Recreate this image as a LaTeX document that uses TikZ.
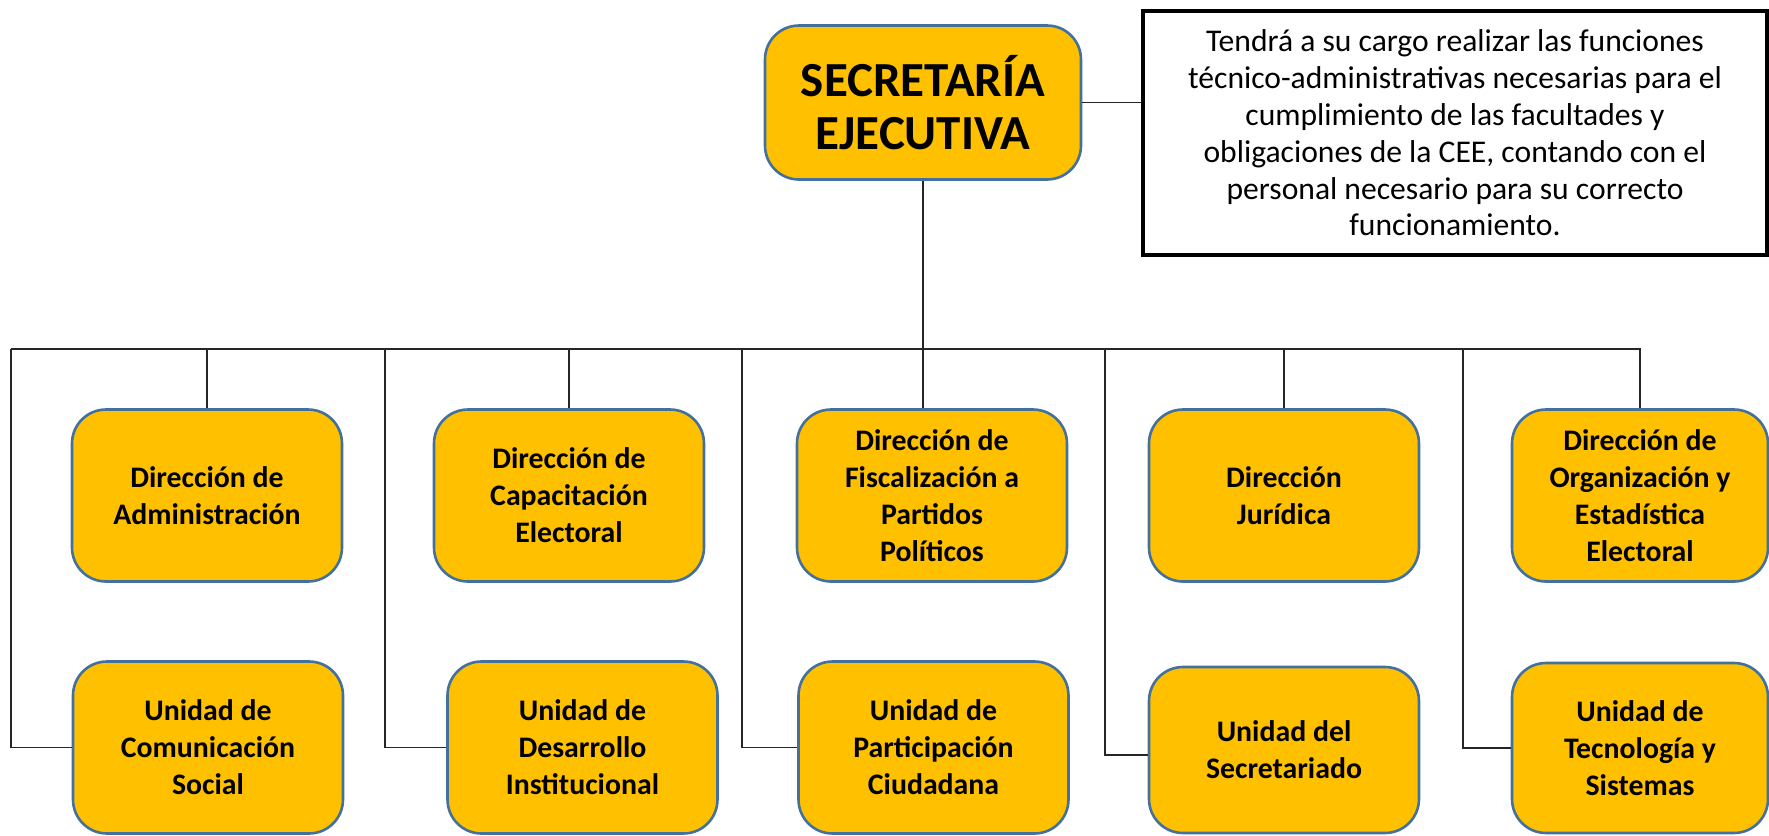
\documentclass[tikz,border=0pt]{standalone}
\usepackage{fontspec}
\setmainfont{Carlito}
\usetikzlibrary{positioning}

\definecolor{cajaamarilla}{HTML}{FFC000}
\definecolor{bordeazul}{HTML}{41719C}

\tikzset{
    caja/.style={draw=bordeazul, line width=1.3pt, fill=cajaamarilla, rounded corners=17pt,
        minimum width=135pt, minimum height=86pt, inner sep=0pt, align=center,
        font=\bfseries\fontsize{14.9}{18.5}\selectfont},
    linea/.style={line width=0.75pt, draw=black!85}
}

\begin{document}
\begin{tikzpicture}[x=0.5pt, y=-0.5pt]
    \useasboundingbox (0,0) rectangle (1769,836);
    % Cabeza del organigrama
    \node[caja, minimum width=158pt, minimum height=77pt, font=\bfseries\fontsize{24.5}{26.5}\selectfont]
        (sec) at (923,102.5) {SECRETARÍA\\EJECUTIVA};
    \node[draw=black, line width=2pt, minimum width=312pt, minimum height=122pt, inner sep=0pt,
        align=center, font=\fontsize{15.8}{18.4}\selectfont] (desc) at (1455,133)
        {Tendrá a su cargo realizar las funciones\\técnico-administrativas necesarias para el\\
         cumplimiento de las facultades y\\obligaciones de la CEE, contando con el\\
         personal necesario para su correcto\\funcionamiento.};
    \draw[linea] (sec.east) -- (sec.east -| desc.west);
    % Direcciones (fila superior)
    \node[caja] (adm) at (207,495.5) {Dirección de\\Administración};
    \node[caja] (cap) at (569,495.5) {Dirección de\\Capacitación\\Electoral};
    \node[caja] (fis) at (932,495.5) {Dirección de\\Fiscalización a\\Partidos\\Políticos};
    \node[caja] (jur) at (1284,495.5) {Dirección\\Jurídica};
    \node[caja, minimum width=128pt] (org) at (1640,495.5) {Dirección de\\Organización y\\Estadística\\Electoral};
    % Unidades (fila inferior)
    \node[caja] (com) at (208,747.5) {Unidad de\\Comunicación\\Social};
    \node[caja] (des) at (582.5,747.5) {Unidad de\\Desarrollo\\Institucional};
    \node[caja] (par) at (933.5,747.5) {Unidad de\\Participación\\Ciudadana};
    \node[caja, minimum height=83pt] (sct) at (1284,750) {Unidad del\\Secretariado};
    \node[caja, minimum width=128pt, minimum height=85pt] (tec) at (1640,748) {Unidad de\\Tecnología y\\Sistemas};
    % Conectores
    \coordinate (b1) at (11,349);
    \coordinate (b2) at (385,349);
    \coordinate (b3) at (742,349);
    \coordinate (b4) at (1105,349);
    \coordinate (b5) at (1463,349);
    \draw[linea] (sec.south) -- (sec.south |- fis.north);
    \draw[linea] (b1) -| (org.north);
    \foreach \n in {adm,cap,jur}
        \draw[linea] (\n.north) -- (\n.north |- b1);
    \draw[linea] (b1) |- (com.west);
    \draw[linea] (b2) |- (des.west);
    \draw[linea] (b3) |- (par.west);
    \draw[linea] (b4) |- ([yshift=-2.5pt]sct.west);
    \draw[linea] (b5) |- (tec.west);
\end{tikzpicture}
\end{document}
